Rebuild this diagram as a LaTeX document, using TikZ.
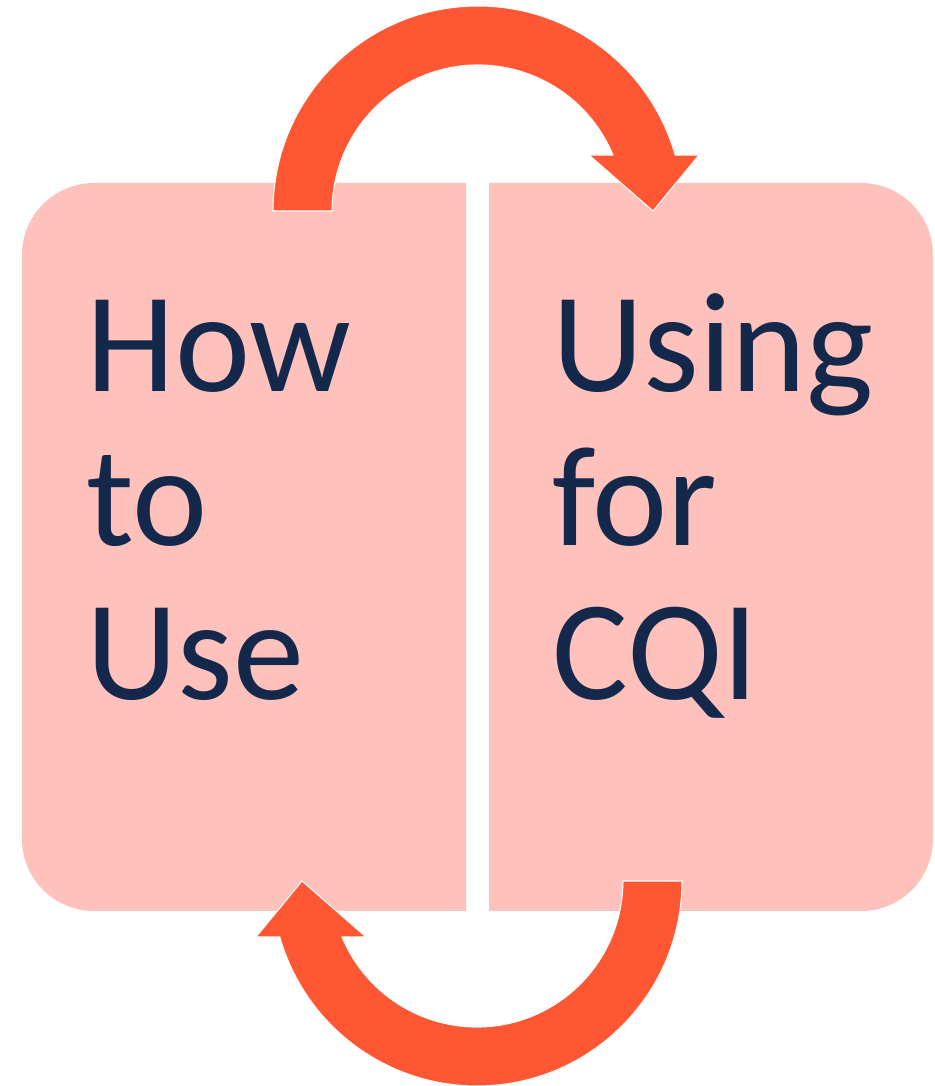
\documentclass[tikz,border=0pt]{standalone}
\usepackage{fontspec}
\newfontfamily\cardfont{Carlito}
\usetikzlibrary{positioning}
\definecolor{cardpink}{RGB}{254,193,187}
\definecolor{arroworange}{RGB}{255,87,51}
\definecolor{inknavy}{RGB}{20,40,75}
\tikzset{%
	card/.style     = {fill=cardpink}, % Page fill
	cycarrow/.style = {fill=arroworange, draw=white, line width=0.6pt, line join=miter}, % Curved arrow
	word/.style     = {anchor=base west, inner sep=0pt, text=inknavy, font=\cardfont\fontsize{81}{88}\selectfont}, % Page text
}

\begin{document}
\begin{tikzpicture}[x=0.02cm,y=0.02cm]
	\useasboundingbox (0,0) rectangle (935,1086);

	% the two pages
	\fill[card] (466,903) -- (94,903) arc[start angle=90,end angle=180,radius=72]
		-- (22,247) arc[start angle=180,end angle=270,radius=72] -- (466,175) -- cycle;
	\fill[card] (489,903) -- (861,903) arc[start angle=90,end angle=0,radius=72]
		-- (933,247) arc[start angle=0,end angle=-90,radius=72] -- (489,175) -- cycle;

	% curved arrows, the lower one is the upper one turned half way round
	\foreach \turn in {0,180} {
		\begin{scope}[rotate around={\turn:(477.5,540)}]
			\filldraw[cycarrow] (273,875) arc[start angle=180,end angle=15.85,radius=205]
				-- (699,931) -- (653,875) -- (589,931) -- (612.9,931)
				arc[start angle=22.55,end angle=180,radius=146] -- cycle;
		\end{scope}
	}

	\node[word] (how) at (86,694) {How};
	\node[word] (toword) at (86,540) {to};
	\node[word] (use) at (86,386) {Use};

	\node[word] (using) at (552,694) {Using};
	\node[word] (for) at (552,540) {for};
	\node[word] (cqi) at (552,386) {CQI};
\end{tikzpicture}
\end{document}
